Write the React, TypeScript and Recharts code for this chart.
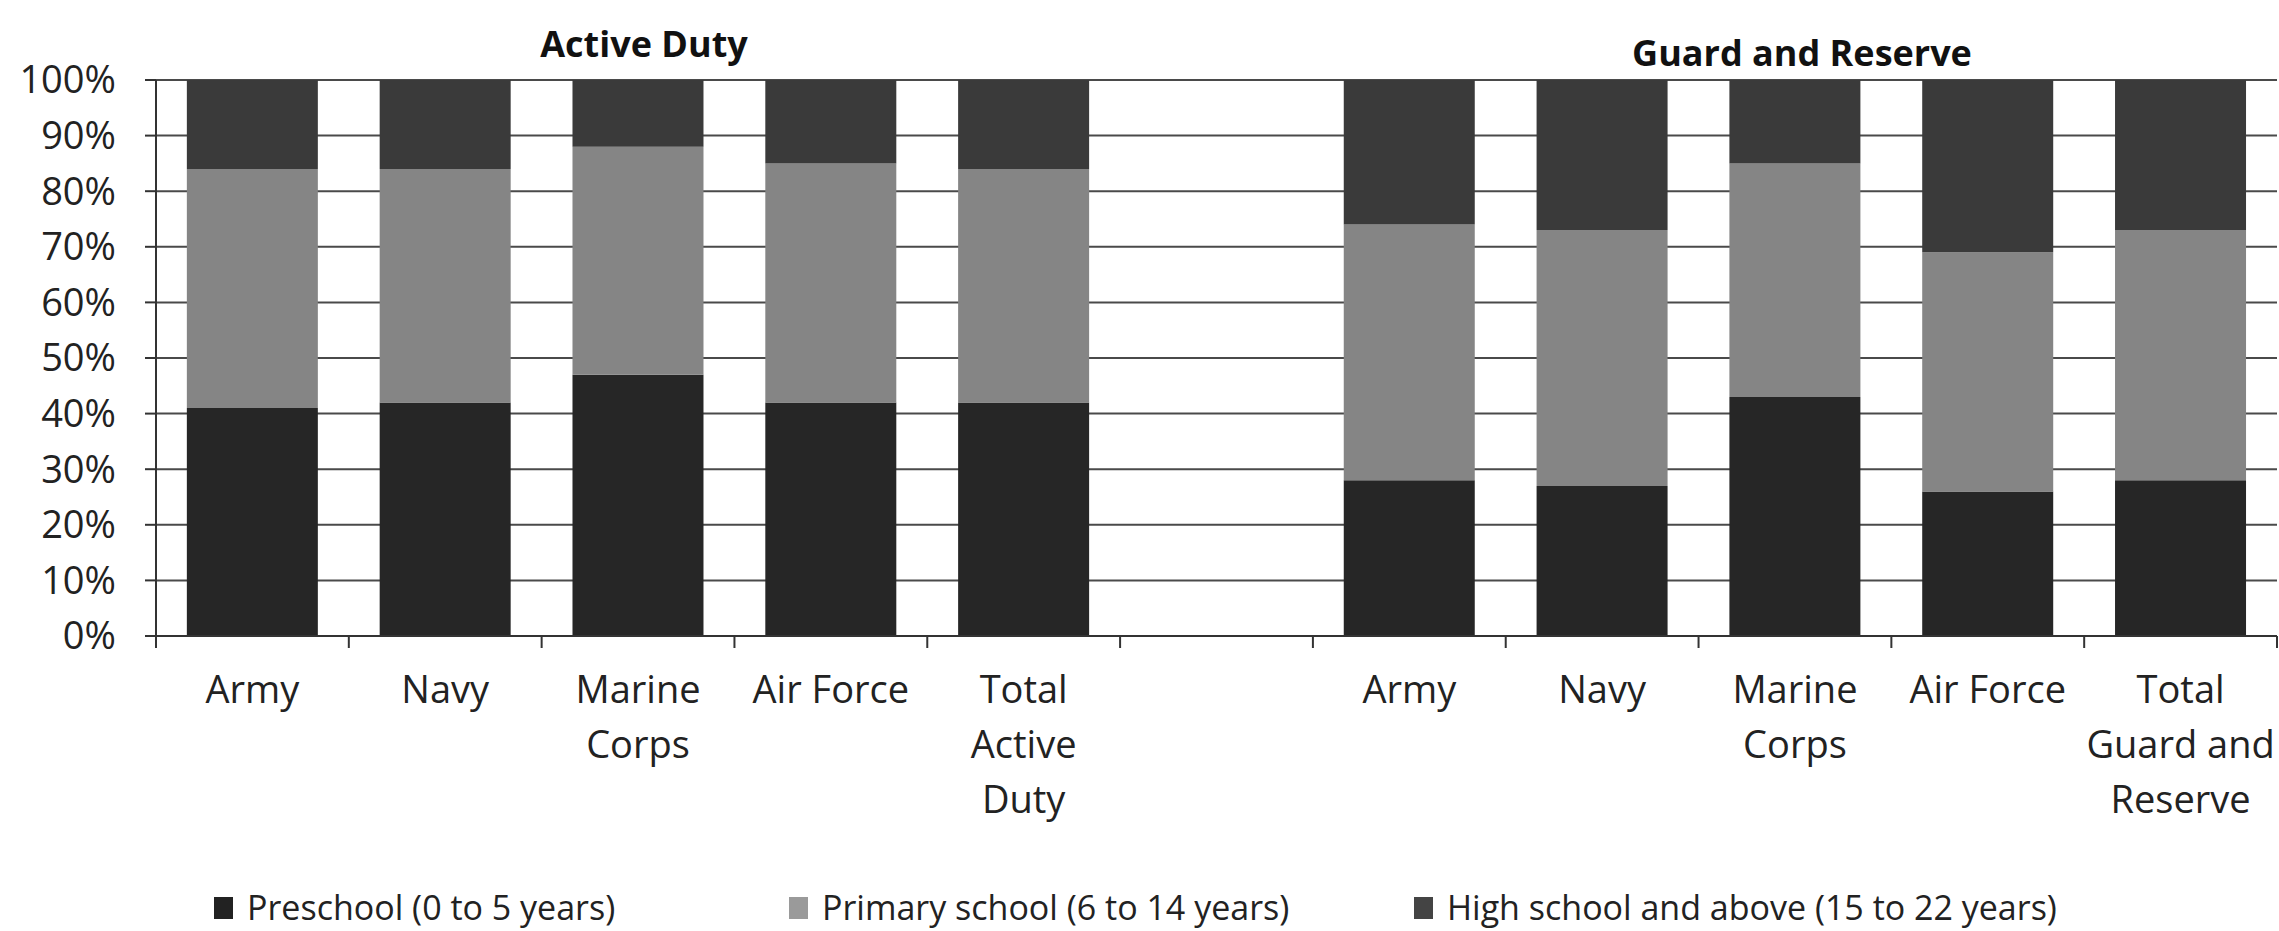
import React from "react";
import { BarChart, Bar, XAxis, YAxis, CartesianGrid, Legend } from "recharts";

// categories, the empty slot separates the two groups
const categories = [
  "Army",
  "Navy",
  "Marine Corps",
  "Air Force",
  "Total Active Duty",
  "",
  "Army",
  "Navy",
  "Marine Corps",
  "Air Force",
  "Total Guard and Reserve",
];
const tickLines = [
  ["Army"],
  ["Navy"],
  ["Marine", "Corps"],
  ["Air Force"],
  ["Total", "Active", "Duty"],
  [],
  ["Army"],
  ["Navy"],
  ["Marine", "Corps"],
  ["Air Force"],
  ["Total", "Guard and", "Reserve"],
];

const preschool = [41, 42, 47, 42, 42, null, 28, 27, 43, 26, 28];
const primary = [43, 42, 41, 43, 42, null, 46, 46, 42, 43, 45];
const highSchool = [16, 16, 12, 15, 16, null, 26, 27, 15, 31, 27];

const yTicks = [0, 10, 20, 30, 40, 50, 60, 70, 80, 90, 100];

const seriesNames = [
  "Preschool (0 to 5 years)",
  "Primary school (6 to 14 years)",
  "High school and above (15 to 22 years)",
];

const FONT = "'Open Sans', sans-serif";
const barColors = ["#262626", "#858585", "#3a3a3a"];
const legendColors = ["#222222", "#9a9a9a", "#444444"];
const legendLeft = [214, 789, 1414];

const data = categories.map((name, i) => ({
  id: `c${i}`,
  name,
  preschool: preschool[i],
  primary: primary[i],
  high: highSchool[i],
}));

// label plus Excel-style tick marks on the category boundaries
const CategoryTick = ({ x, y, payload, width, visibleTicksCount, index }: any) => {
  const lines = tickLines[payload.index] || [];
  const band = width / visibleTicksCount;
  const left = x - band / 2;
  const right = x + band / 2;
  return (
    <g>
      <line x1={left} x2={left} y1={y} y2={y + 12} stroke="#333" strokeWidth={2} />
      {index === visibleTicksCount - 1 && (
        <line x1={right} x2={right} y1={y} y2={y + 12} stroke="#333" strokeWidth={2} />
      )}
      <text x={x} y={y} textAnchor="middle" fill="#222" fontSize={38} fontFamily={FONT}>
        {lines.map((l, i) => (
          <tspan key={i} x={x} y={y + 67 + i * 55}>
            {l}
          </tspan>
        ))}
      </text>
    </g>
  );
};

const renderLegend = () => (
  <div style={{ position: "relative", width: 2279, height: 46 }}>
    {seriesNames.map((s, i) => (
      <div
        key={s}
        style={{
          position: "absolute",
          left: legendLeft[i],
          top: 0,
          height: 46,
          whiteSpace: "nowrap",
        }}
      >
        <span
          style={{
            position: "absolute",
            left: 0,
            top: 12,
            width: 19,
            height: 22,
            background: legendColors[i],
          }}
        />
        <span
          style={{
            position: "absolute",
            left: 33,
            top: 5,
            fontSize: 34,
            lineHeight: 1,
            color: "#222",
            fontFamily: FONT,
          }}
        >
          {s}
        </span>
      </div>
    ))}
  </div>
);

const titleStyle: React.CSSProperties = {
  position: "absolute",
  transform: "translateX(-50%)",
  fontSize: 36,
  fontWeight: 700,
  lineHeight: 1,
  color: "#111",
  fontFamily: FONT,
  whiteSpace: "nowrap",
};

export default function App() {
  return (
    <div
      style={{
        position: "absolute",
        left: 0,
        top: 0,
        width: 2279,
        height: 931,
        background: "#fff",
        fontFamily: FONT,
      }}
    >
      <BarChart
        width={2279}
        height={931}
        data={data}
        margin={{ top: 80, right: 2, left: 0, bottom: 0 }}
        barCategoryGap="16%"
      >
        <CartesianGrid vertical={false} stroke="#4a4a4a" strokeWidth={2} />
        <XAxis
          dataKey="id"
          type="category"
          interval={0}
          height={249}
          tickSize={0}
          tickMargin={0}
          tickLine={false}
          axisLine={{ stroke: "#333", strokeWidth: 2 }}
          tick={<CategoryTick />}
        />
        <YAxis
          width={156}
          domain={[0, 100]}
          ticks={yTicks}
          tickFormatter={(v: number) => `${v}%`}
          tickSize={11}
          tickMargin={29}
          tick={{ fontSize: 38, fill: "#222", fontFamily: FONT }}
          axisLine={{ stroke: "#333", strokeWidth: 2 }}
          tickLine={{ stroke: "#333", strokeWidth: 2 }}
        />
        <Legend verticalAlign="bottom" content={renderLegend} />
        <Bar dataKey="preschool" name={seriesNames[0]} stackId="a" fill={barColors[0]} isAnimationActive={false} />
        <Bar dataKey="primary" name={seriesNames[1]} stackId="a" fill={barColors[1]} isAnimationActive={false} />
        <Bar dataKey="high" name={seriesNames[2]} stackId="a" fill={barColors[2]} isAnimationActive={false} />
      </BarChart>
      <div style={{ ...titleStyle, left: 644, top: 26 }}>Active Duty</div>
      <div style={{ ...titleStyle, left: 1802, top: 35 }}>Guard and Reserve</div>
    </div>
  );
}
